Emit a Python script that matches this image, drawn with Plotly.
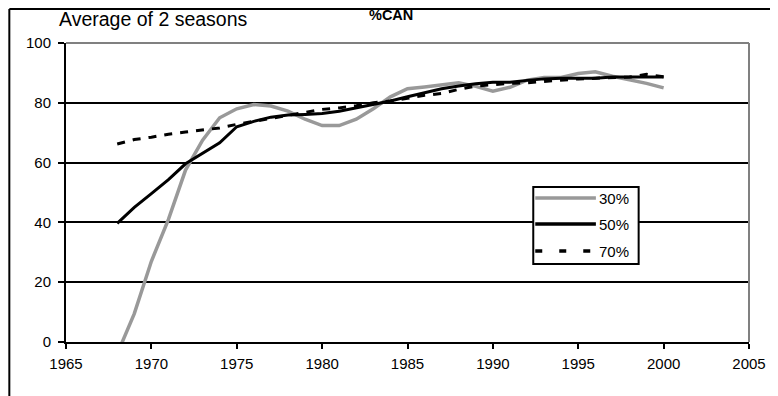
import plotly.graph_objects as go

years = list(range(1968, 2001))
series_names = ["30%", "50%", "70%"]
p30 = [-4, 9.5, 27, 41, 57.5, 67.5, 75, 78, 79.4, 78.9, 77.2, 74.5, 72.4, 72.4, 74.5, 78, 82,
       84.7, 85.3, 86, 86.7, 85.5, 83.9, 85.2, 87.6, 88.5, 88.5, 89.8, 90.4, 88.9, 87.8, 86.5, 85]
p50 = [39.7, 45, 49.6, 54.3, 59.6, 63.0, 66.6, 72, 73.8, 75.2, 75.9, 76.1, 76.4, 77.2, 78.3, 79.4,
       80.6, 82, 83.3, 84.7, 85.6, 86.4, 86.9, 86.9, 87.5, 88, 88.2, 88.2, 88.2, 88.6, 88.6, 88.6, 88.6]
p70 = [66.2, 67.7, 68.5, 69.5, 70.2, 70.9, 71.6, 72.8, 73.8, 75, 76, 77, 77.8, 78.3, 79, 80, 80.6,
       81.5, 82.5, 83.1, 84.5, 85.6, 86.1, 86.5, 86.7, 87.2, 87.6, 88, 88.2, 88.4, 88.6, 89.5, 88.7]
x_ticks = [1965, 1970, 1975, 1980, 1985, 1990, 1995, 2000, 2005]
y_ticks = [0, 20, 40, 60, 80, 100]
title_text = "Average of 2 seasons"
subtitle_text = "%CAN"

FONT = "Arial, Liberation Sans, sans-serif"
styles = [
    dict(color="#999999", width=3.5, dash="solid"),
    dict(color="#000000", width=3, dash="solid"),
    dict(color="#000000", width=3, dash="8px,8px"),
]

fig = go.Figure()
for name, vals, st in zip(series_names, [p30, p50, p70], styles):
    fig.add_trace(go.Scatter(x=years, y=vals, mode="lines", name=name, line=st,
                             showlegend=False))

# page has an 8px body margin; figure coordinates = page coordinates - 8
OFF = 8
W, H = 778 - OFF, 396 - OFF
L, T = 66 - OFF, 43 - OFF
R = W - (753 - OFF)
B = H - (342 - OFF)
pw, ph = W - L - R, H - T - B

def px(xpage):
    return (xpage - OFF - L) / pw

def py(ypage):
    return (H - B - (ypage - OFF)) / ph

shapes = []
# outer chart border (left and top)
shapes.append(dict(type="line", xref="paper", yref="paper", x0=px(9), x1=px(9), y0=py(410), y1=py(9),
                   line=dict(color="black", width=2)))
shapes.append(dict(type="line", xref="paper", yref="paper", x0=px(9), x1=px(790), y0=py(9), y1=py(9),
                   line=dict(color="black", width=2)))
# plot area border (top, right) gray
shapes.append(dict(type="line", xref="paper", yref="paper", x0=0, x1=1, y0=1, y1=1,
                   line=dict(color="#808080", width=2)))
shapes.append(dict(type="line", xref="paper", yref="paper", x0=1, x1=1, y0=0, y1=1,
                   line=dict(color="#808080", width=2)))
# legend box
shapes.append(dict(type="rect", xref="paper", yref="paper", x0=px(536), x1=px(642), y0=py(264), y1=py(187),
                   line=dict(color="black", width=2), fillcolor="white"))
annotations = []
leg_y = [198, 224, 251]
leg_styles = [dict(color="#999999", width=3.5), dict(color="black", width=3.5),
              dict(color="black", width=3.5, dash="7px,17px")]
for name, ly, st in zip(series_names, leg_y, leg_styles):
    shapes.append(dict(type="line", xref="paper", yref="paper", x0=px(538), x1=px(599), y0=py(ly), y1=py(ly),
                       line=st))
    annotations.append(dict(text=name, xref="paper", yref="paper", x=px(600), y=py(ly), xanchor="left",
                            yanchor="middle", showarrow=False, font=dict(family=FONT, size=15, color="black")))

annotations.append(dict(text=title_text, xref="paper", yref="paper", x=px(57), y=py(19), xanchor="left",
                        yanchor="middle", showarrow=False, font=dict(family=FONT, size=19.5, color="black")))
annotations.append(dict(text="<b>" + subtitle_text + "</b>", xref="paper", yref="paper", x=px(393), y=py(15),
                        xanchor="center", yanchor="middle", showarrow=False,
                        font=dict(family=FONT, size=14.5, color="black")))

fig.update_layout(
    width=W, height=H,
    margin=dict(l=L, r=R, t=T, b=B, pad=0),
    paper_bgcolor="white", plot_bgcolor="white",
    font=dict(family=FONT, size=15, color="black"),
    showlegend=False,
    shapes=shapes,
    annotations=annotations,
    xaxis=dict(range=[1965, 2005], tickvals=x_ticks, ticks="outside", ticklen=5, tickwidth=2,
               tickcolor="black", showline=True, linecolor="black", linewidth=2, showgrid=False,
               zeroline=False, ticklabelstandoff=2, tickfont=dict(size=15)),
    yaxis=dict(range=[0, 100], tickvals=y_ticks, ticks="outside", ticklen=6, tickwidth=2,
               tickcolor="black", showline=True, linecolor="black", linewidth=2, showgrid=True,
               gridcolor="black", gridwidth=1.6, zeroline=False, ticklabelstandoff=4,
               tickfont=dict(size=15)),
)

fig.write_html("out.html")
